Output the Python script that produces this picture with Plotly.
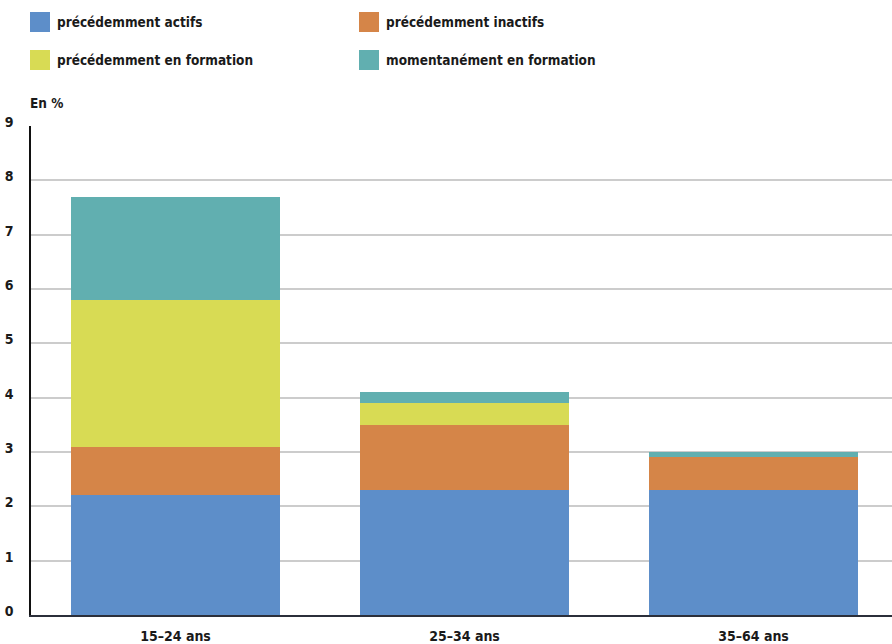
import plotly.graph_objects as go

categories = ["15–24 ans", "25–34 ans", "35–64 ans"]
series_names = ["précédemment actifs", "précédemment inactifs",
                "précédemment en formation", "momentanément en formation"]
actifs = [2.2, 2.3, 2.3]
inactifs = [0.9, 1.2, 0.6]
en_formation = [2.7, 0.4, 0.0]
momentanement = [1.9, 0.2, 0.1]
colors = ["#5d8ec9", "#d58548", "#d8db54", "#61afb0"]
y_ticks = [0, 1, 2, 3, 4, 5, 6, 7, 8, 9]

FONT = "DejaVu Sans Condensed"
FS = 13.5
W, H = 892, 644
L, R, T, B = 31, 0, 126, 29
PW, PH = W - L - R, H - T - B

def px(x):
    return (x - L) / PW

def py(y):
    return (H - B - y) / PH

fig = go.Figure()
for name, vals, col in zip(series_names, [actifs, inactifs, en_formation, momentanement], colors):
    fig.add_trace(go.Bar(x=categories, y=vals, name=name, marker=dict(color=col, line=dict(width=0)),
                         showlegend=False))

# legend drawn manually: 2 columns x 2 rows
leg_pos = [(30, 12), (359, 12), (30, 50), (359, 50)]
shapes = []
annotations = []
for (lx, ly), name, col in zip(leg_pos, series_names, colors):
    shapes.append(dict(type="rect", xref="paper", yref="paper",
                       x0=px(lx), x1=px(lx + 20), y0=py(ly + 20), y1=py(ly),
                       fillcolor=col, line=dict(width=0)))
    annotations.append(dict(xref="paper", yref="paper", x=px(lx + 25), y=py(ly + 10),
                            xanchor="left", yanchor="middle", showarrow=False,
                            text=name, font=dict(family=FONT, size=FS, color="#1a1a1a", weight="bold")))

annotations.append(dict(xref="paper", yref="paper", x=px(28), y=py(103),
                        xanchor="left", yanchor="middle", showarrow=False,
                        text="En %", font=dict(family=FONT, size=FS, color="#1a1a1a", weight="bold")))

fig.update_layout(
    width=W, height=H,
    margin=dict(l=L, r=R, t=T, b=B, pad=0, autoexpand=False),
    paper_bgcolor="white", plot_bgcolor="white",
    barmode="stack", bargap=0.277,
    shapes=shapes, annotations=annotations,
    font=dict(family=FONT, size=FS, color="#1a1a1a"),
)
fig.update_xaxes(range=[-0.5, -0.5 + PW / 289.0], showgrid=False, automargin=False,
                 showline=True, linecolor="#2b2f3a", linewidth=2,
                 ticks="", ticklabelstandoff=7,
                 tickfont=dict(family=FONT, size=14, color="#1a1a1a", weight="bold"))
fig.update_yaxes(range=[0, 9], tickvals=y_ticks, ticktext=[str(v) for v in y_ticks],
                 automargin=False,
                 showgrid=True, gridcolor="#cccccc", gridwidth=1.5,
                 zeroline=False, showline=True, linecolor="#111111", linewidth=1.5,
                 ticks="", ticklabelstandoff=13, ticklabelshift=-4,
                 tickfont=dict(family=FONT, size=14, color="#1a1a1a", weight="bold"))

fig.write_html("out.html")
